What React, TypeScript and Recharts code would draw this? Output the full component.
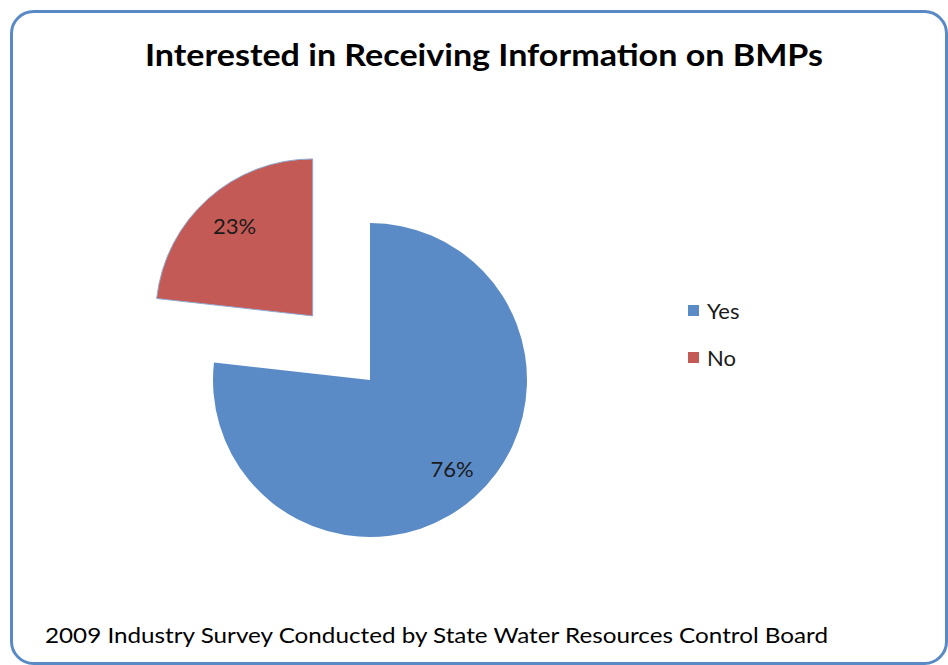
import React from "react";
import { PieChart, Pie, Cell } from "recharts";

const categories = ["Yes", "No"];
const values = [76, 23];
const colors = ["#5B8BC6", "#C45A55"];
const titleText = "Interested in Receiving Information on BMPs";
const footerText = "2009 Industry Survey Conducted by State Water Resources Control Board";

const data = categories.map((name, i) => ({ name, value: values[i] }));

const FONT = "Lato, 'Open Sans', sans-serif";
const RADIUS = 157;
const CX = 370;
const CY = 380;
const EXPLODE = 86;

const RAD = Math.PI / 180;

const makeLabel = (showIndex: number) => (props: any) => {
  const { cx, cy, midAngle, outerRadius, value, index } = props;
  if (index !== showIndex) return null;
  const r = outerRadius * 0.765;
  const x = cx + r * Math.cos(-midAngle * RAD);
  const y = cy + r * Math.sin(-midAngle * RAD);
  return (
    <text x={x + 2} y={y - 1} fill="#1a1a1a" fontSize={22} fontFamily={FONT} textAnchor="middle" dominantBaseline="central">
      {`${value}%`}
    </text>
  );
};

// mid angle of the "No" slice, for the explode offset
const total = values.reduce((a, b) => a + b, 0);
const noStart = 90 - (values[0] / total) * 360;
const noMid = noStart - ((values[1] / total) * 360) / 2;
const exCx = CX + EXPLODE * Math.cos(noMid * RAD);
const exCy = CY - EXPLODE * Math.sin(noMid * RAD);

export default function App() {
  return (
    <div style={{ position: "absolute", left: 0, top: 0, width: 948, height: 665, background: "#fff", overflow: "hidden" }}>
      <svg width={948} height={665} style={{ position: "absolute", left: 0, top: 0 }}>
        <rect x={11.5} y={11.5} width={935} height={652} rx={22} ry={22} fill="#fff" stroke="#5A8AC6" strokeWidth={3} />
        <text x={484} y={66} textAnchor="middle" fontFamily={FONT} fontWeight="bold" fontSize={31} fill="#000" textLength={678} lengthAdjust="spacingAndGlyphs">
          {titleText}
        </text>
        <text x={45} y={643} fontFamily={FONT} fontSize={22} fill="#000" textLength={783} lengthAdjust="spacingAndGlyphs">
          {footerText}
        </text>
      </svg>
      <div style={{ position: "absolute", left: 0, top: 0 }}>
        <PieChart width={948} height={665} margin={{ top: 0, right: 0, bottom: 0, left: 0 }}>
          <Pie
            data={data}
            dataKey="value"
            nameKey="name"
            cx={CX}
            cy={CY}
            outerRadius={RADIUS}
            startAngle={90}
            endAngle={-270}
            isAnimationActive={false}
            stroke="none"
            labelLine={false}
            label={makeLabel(0)}
          >
            {data.map((d, i) => (
              <Cell key={d.name} fill={i === 0 ? colors[i] : "transparent"} />
            ))}
          </Pie>
          <Pie
            data={data}
            dataKey="value"
            nameKey="name"
            cx={exCx}
            cy={exCy}
            outerRadius={RADIUS}
            startAngle={90}
            endAngle={-270}
            isAnimationActive={false}
            stroke="none"
            labelLine={false}
            label={makeLabel(1)}
          >
            {data.map((d, i) => (
              <Cell key={d.name} fill={i === 1 ? colors[i] : "transparent"} stroke={i === 1 ? "#8FA9D0" : "none"} strokeWidth={1} />
            ))}
          </Pie>
        </PieChart>
      </div>
      <div style={{ position: "absolute", left: 688, top: 287, fontFamily: FONT }}>
        {categories.map((c, i) => (
          <div key={c} style={{ display: "flex", alignItems: "center", height: 47 }}>
            <div style={{ width: 11, height: 11, background: colors[i], marginRight: 8 }} />
            <span style={{ fontSize: 22, color: "#1a1a1a" }}>{c}</span>
          </div>
        ))}
      </div>
    </div>
  );
}
